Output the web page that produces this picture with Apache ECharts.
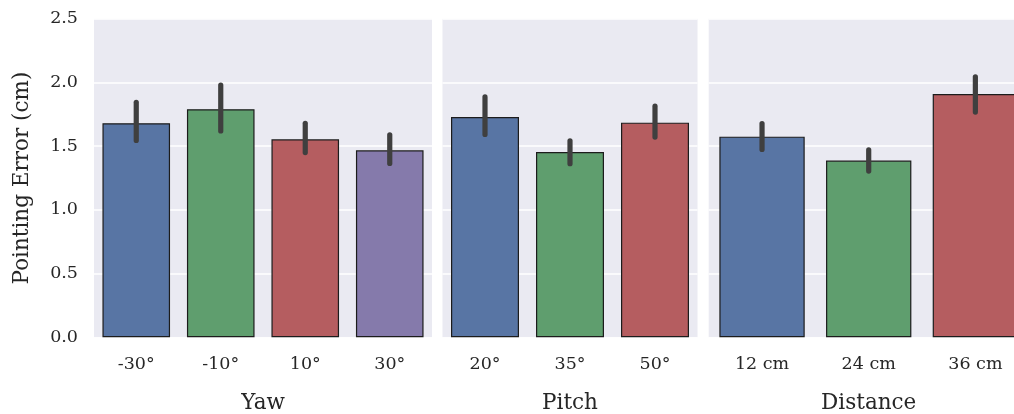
<!DOCTYPE html>
<html>
<head>
<meta charset="utf-8">
<script src="https://cdn.jsdelivr.net/npm/echarts@6/dist/echarts.min.js"></script>
<style>html,body{margin:0;padding:0;background:#fff}#c{width:1014px;height:414px}</style>
</head>
<body>
<div id="c"></div>
<script>
// Data
const yawCats = ['-30°', '-10°', '10°', '30°'];
const yawMean = [1.68, 1.79, 1.554, 1.468];
const yawLow = [1.545, 1.62, 1.45, 1.365];
const yawHigh = [1.845, 1.98, 1.68, 1.59];

const pitchCats = ['20°', '35°', '50°'];
const pitchMean = [1.729, 1.455, 1.685];
const pitchLow = [1.592, 1.363, 1.572];
const pitchHigh = [1.887, 1.542, 1.814];

const distCats = ['12 cm', '24 cm', '36 cm'];
const distMean = [1.575, 1.387, 1.91];
const distLow = [1.475, 1.305, 1.768];
const distHigh = [1.677, 1.471, 2.045];

const panelNames = ['Yaw', 'Pitch', 'Distance'];
const yTicks = [0, 0.5, 1.0, 1.5, 2.0, 2.5];
const palette = ['#5875a4', '#5f9e6e', '#b55d60', '#857aab'];

const FONT = 'DejaVu Serif';
const TXT = '#262626';

const panels = [
  {cats: yawCats, mean: yawMean, low: yawLow, high: yawHigh, left: 94, width: 338},
  {cats: pitchCats, mean: pitchMean, low: pitchLow, high: pitchHigh, left: 442.5, width: 255},
  {cats: distCats, mean: distMean, low: distLow, high: distHigh, left: 708.7, width: 320}
];

const grids = [], xAxes = [], yAxes = [], series = [];
panels.forEach((p, i) => {
  grids.push({left: p.left, width: p.width, top: 18.8, height: 318.5,
    outerBoundsMode: 'none', containLabel: false,
    show: true, backgroundColor: '#EAEAF2', borderWidth: 0});
  xAxes.push({type: 'category', gridIndex: i, data: p.cats,
    axisLine: {show: false}, axisTick: {show: false},
    axisLabel: {fontFamily: FONT, fontSize: 17.5, color: TXT, margin: 18},
    name: panelNames[i], nameLocation: 'middle', nameGap: 55,
    nameTextStyle: {fontFamily: FONT, fontSize: 21.5, color: TXT}});
  yAxes.push({type: 'value', gridIndex: i, min: 0, max: 2.5, interval: 0.5,
    axisLine: {show: false}, axisTick: {show: false},
    splitLine: {show: true, lineStyle: {color: '#ffffff', width: 1.6}},
    axisLabel: {show: i === 0, fontFamily: FONT, fontSize: 17.5, color: TXT, margin: 16,
      formatter: v => yTicks.includes(v) ? v.toFixed(1) : ''},
    name: i === 0 ? 'Pointing Error (cm)' : '', nameLocation: 'middle', nameGap: 61,
    nameTextStyle: {fontFamily: FONT, fontSize: 21.5, color: TXT}});
  series.push({type: 'bar', xAxisIndex: i, yAxisIndex: i, barWidth: '80%',
    data: p.mean.map((v, k) => ({value: v, itemStyle: {color: palette[k]}})),
    itemStyle: {borderColor: '#1c1c1c', borderWidth: 1.2},
    emphasis: {disabled: true}, animation: false});
  series.push({type: 'custom', xAxisIndex: i, yAxisIndex: i, z: 10,
    data: p.cats.map((c, k) => [k, p.low[k], p.high[k]]),
    renderItem: (params, api) => {
      const a = api.coord([api.value(0), api.value(1)]);
      const b = api.coord([api.value(0), api.value(2)]);
      return {type: 'line', shape: {x1: a[0], y1: a[1], x2: b[0], y2: b[1]},
        style: {stroke: '#3f3f3f', lineWidth: 5.2, lineCap: 'round'}};
    }, animation: false});
});

const chart = echarts.init(document.getElementById('c'), null, {renderer: 'canvas'});
chart.setOption({backgroundColor: '#ffffff', animation: false,
  grid: grids, xAxis: xAxes, yAxis: yAxes, series: series});
</script>
</body>
</html>
